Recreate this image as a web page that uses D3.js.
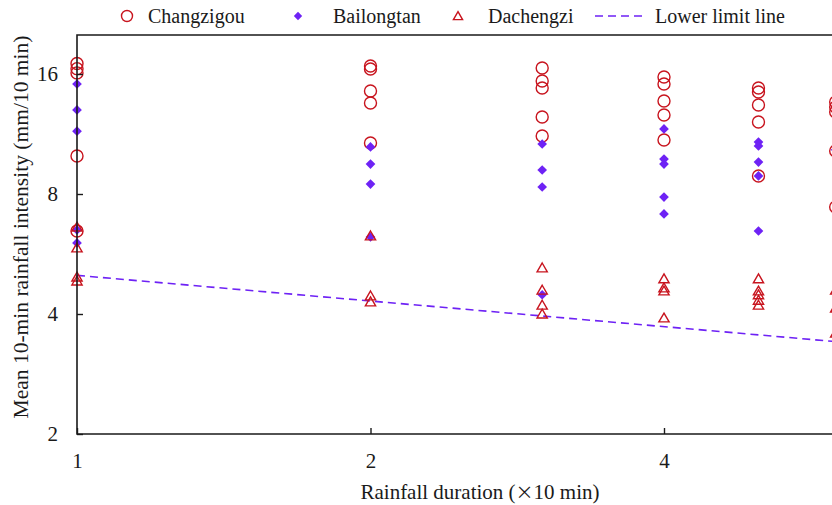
<!DOCTYPE html>
<html>
<head>
<meta charset="utf-8">
<script src="https://cdn.jsdelivr.net/npm/d3@7"></script>
<style>
  body { margin: 0; background: #fff; }
  text { font-family: "Liberation Serif", "Times New Roman", serif; }
</style>
</head>
<body>
<div id="chart"></div>
<script>
// durations (x10 min)
const durations = [1, 2, 3, 4, 5, 6];

// mean 10-min intensity (mm/10 min), one list per duration
const changzigou = [
  [17.0, 16.5, 16.1, 9.96, 6.46],
  [16.75, 16.47, 14.5, 13.53, 10.74],
  [16.56, 15.37, 14.76, 12.48, 11.18],
  [15.73, 15.10, 13.69, 12.63, 10.93],
  [14.76, 14.42, 13.38, 12.13, 8.88],
  [13.61, 13.22, 12.85, 10.26, 7.42]
];
const bailongtan = [
  [15.1, 13.0, 11.5, 6.5, 6.03],
  [10.5, 9.51, 8.47, 6.24],
  [10.68, 9.19, 8.33, 4.47],
  [11.65, 9.79, 9.51, 7.86, 7.13],
  [10.8, 10.56, 9.62, 8.88, 6.46],
  [10.33]
];
const dachengzi = [
  [6.61, 5.86, 4.95, 4.84],
  [6.28, 4.44, 4.29],
  [5.22, 4.59, 4.21, 4.0],
  [4.90, 4.65, 4.57, 3.91],
  [4.90, 4.57, 4.47, 4.33, 4.21],
  [4.59, 4.14, 3.58]
];
// lower limit line end points [duration, intensity]
const lowerLimit = [[1, 5.0], [6, 3.41]];

const xTicks = [1, 2, 4];
const yTicks = [2, 4, 8, 16];

const red = "#c8141e";
const purple = "#6e22f5";
const ink = "#1a1a1a";

const width = 832, height = 505;
const marginLeft = 77, marginTop = 35, plotBottom = 434;

const svg = d3.select("#chart").append("svg")
    .attr("width", width)
    .attr("height", height);

// log2 scales: one doubling = 293.5 px on x, 120 px on y
const x = d3.scaleLog().base(2).domain([1, 8]).range([marginLeft, marginLeft + 293.5 * 3]);
const y = d3.scaleLog().base(2).domain([2, 32]).range([plotBottom, plotBottom - 120 * 4]);

function flatten(arr) {
  const out = [];
  arr.forEach((vals, i) => vals.forEach(v => out.push({t: durations[i], v: v})));
  return out;
}

const plot = svg.append("g");

// lower limit line
plot.append("path")
    .datum(lowerLimit)
    .attr("fill", "none")
    .attr("stroke", purple)
    .attr("stroke-width", 1.6)
    .attr("stroke-dasharray", "8,5")
    .attr("d", d3.line().x(d => x(d[0])).y(d => y(d[1])));

// Changzigou circles
plot.append("g").selectAll("circle")
  .data(flatten(changzigou))
  .join("circle")
    .attr("cx", d => x(d.t))
    .attr("cy", d => y(d.v))
    .attr("r", 6)
    .attr("fill", "none")
    .attr("stroke", red)
    .attr("stroke-width", 1.4);

// Bailongtan diamonds
const diamond = d3.symbol().type(d3.symbolDiamond2).size(60);
plot.append("g").selectAll("path")
  .data(flatten(bailongtan))
  .join("path")
    .attr("transform", d => `translate(${x(d.t)},${y(d.v)})`)
    .attr("d", diamond)
    .attr("fill", purple);

// Dachengzi triangles
const tri = d3.symbol().type(d3.symbolTriangle2).size(75);
plot.append("g").selectAll("path")
  .data(flatten(dachengzi))
  .join("path")
    .attr("transform", d => `translate(${x(d.t)},${y(d.v) + 1})`)
    .attr("d", tri)
    .attr("fill", "none")
    .attr("stroke", red)
    .attr("stroke-width", 1.4);

// axes
const xAxis = svg.append("g")
    .attr("transform", `translate(0,${plotBottom})`)
    .call(d3.axisBottom(x).tickValues(xTicks).tickFormat(d3.format("d"))
      .tickSizeInner(-6).tickSizeOuter(0).tickPadding(19));
const yAxis = svg.append("g")
    .attr("transform", `translate(${marginLeft},0)`)
    .call(d3.axisLeft(y).tickValues(yTicks).tickFormat(d3.format("d"))
      .tickSizeInner(-6).tickSizeOuter(0).tickPadding(19));

[xAxis, yAxis].forEach(a => {
  a.select(".domain").remove();
  a.selectAll("line").attr("stroke", ink).attr("stroke-width", 1.4);
  a.selectAll("text").attr("font-size", 21).attr("fill", ink)
    .style("font-family", '"Liberation Serif", serif');
});

// frame lines
svg.append("path")
    .attr("fill", "none")
    .attr("stroke", ink)
    .attr("stroke-width", 1.6)
    .attr("d", `M${width},${marginTop}H${marginLeft}V${plotBottom}H${width}`);

// axis titles
const xTitle = svg.append("text")
    .attr("x", 480)
    .attr("y", 499)
    .attr("text-anchor", "middle")
    .attr("font-size", 21)
    .attr("fill", ink);
xTitle.append("tspan").text("Rainfall duration (");
xTitle.append("tspan").style("font-family", '"Noto Sans CJK SC", sans-serif')
    .attr("font-size", 18).text("\u00D7");
xTitle.append("tspan").text("10 min)");

svg.append("text")
    .attr("transform", "translate(28,227) rotate(-90)")
    .attr("text-anchor", "middle")
    .attr("font-size", 21.5)
    .attr("fill", ink)
    .text("Mean 10-min rainfall intensity (mm/10 min)");

// legend
const legend = svg.append("g").attr("transform", "translate(0,16)");
legend.append("circle").attr("cx", 127).attr("cy", 0).attr("r", 5.5)
    .attr("fill", "none").attr("stroke", red).attr("stroke-width", 1.4);
legend.append("path").attr("transform", "translate(298,0)")
    .attr("d", d3.symbol().type(d3.symbolDiamond2).size(45)).attr("fill", purple);
legend.append("path").attr("transform", "translate(458,1)")
    .attr("d", d3.symbol().type(d3.symbolTriangle2).size(60))
    .attr("fill", "none").attr("stroke", red).attr("stroke-width", 1.4);
legend.append("line").attr("x1", 595).attr("x2", 646).attr("y1", 0).attr("y2", 0)
    .attr("stroke", purple).attr("stroke-width", 1.6).attr("stroke-dasharray", "8,5");

const legendLabels = [["Changzigou", 148], ["Bailongtan", 333], ["Dachengzi", 488], ["Lower limit line", 655]];
legend.selectAll("text.lab")
  .data(legendLabels)
  .join("text")
    .attr("class", "lab")
    .attr("x", d => d[1])
    .attr("y", 7)
    .attr("font-size", 20)
    .attr("fill", ink)
    .text(d => d[0]);
</script>
</body>
</html>
